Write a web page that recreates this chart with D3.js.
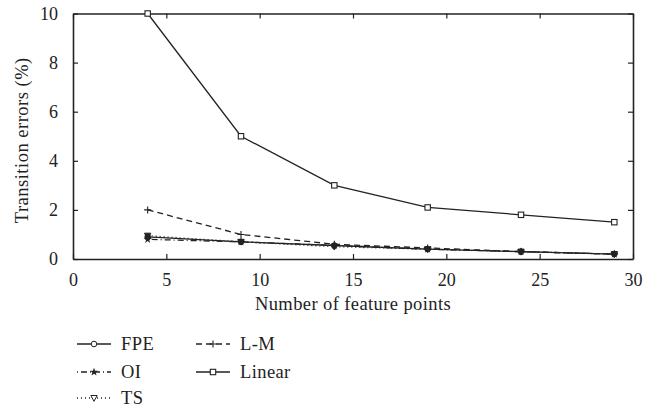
<!DOCTYPE html>
<html>
<head>
<meta charset="utf-8">
<script src="https://cdn.jsdelivr.net/npm/d3@7/dist/d3.min.js"></script>
<style>
  body { margin: 0; background: #fff; }
  .axis path, .axis line { stroke: #222; }
</style>
</head>
<body>
<div id="chart"></div>
<script>
// data
var featurePoints = [4, 9, 14, 19, 24, 29]
var fpe = [0.9, 0.7, 0.55, 0.4, 0.3, 0.2]
var oi = [0.8, 0.7, 0.55, 0.4, 0.3, 0.2]
var ts = [0.95, 0.7, 0.5, 0.4, 0.3, 0.2]
var lm = [2.0, 1.0, 0.6, 0.45, 0.3, 0.2]
var linear = [10, 5, 3, 2.1, 1.8, 1.5]
var xTicks = [0, 5, 10, 15, 20, 25, 30]
var yTicks = [0, 2, 4, 6, 8, 10]

var series = [
  { name: "FPE", values: fpe, dash: null, marker: "circle" },
  { name: "OI", values: oi, dash: "1,3,6,3", marker: "star" },
  { name: "TS", values: ts, dash: "1,3", marker: "triangle" },
  { name: "L-M", values: lm, dash: "6,4", marker: "plus" },
  { name: "Linear", values: linear, dash: null, marker: "square" }
]

var serif = "'Liberation Serif', serif"

var margin = { top: 13.5, right: 21, bottom: 152, left: 73 }
var width = 654 - margin.left - margin.right,
  height = 411 - margin.top - margin.bottom

var svg = d3.select("#chart").append("svg")
  .attr("width", 654)
  .attr("height", 411)

var g = svg.append("g")
  .attr("transform", "translate(" + margin.left + "," + margin.top + ")")

var xPositionScale = d3.scaleLinear().domain([0, 30]).range([0, width])
var yPositionScale = d3.scaleLinear().domain([0, 10]).range([height, 0])

// axes: ticks pointing inward on all four sides
var xAxis = d3.axisBottom(xPositionScale).tickValues(xTicks).tickSizeInner(-5).tickSizeOuter(0).tickPadding(14)
var yAxis = d3.axisLeft(yPositionScale).tickValues(yTicks).tickSizeInner(-5).tickSizeOuter(0).tickPadding(15)

g.append("g").attr("class", "axis x-axis")
  .attr("transform", "translate(0," + height + ")")
  .call(xAxis)
g.append("g").attr("class", "axis y-axis")
  .call(yAxis)
g.append("g").attr("class", "axis")
  .call(d3.axisTop(xPositionScale).tickValues(xTicks).tickSizeInner(-5).tickSizeOuter(0).tickFormat(""))
g.append("g").attr("class", "axis")
  .attr("transform", "translate(" + width + ",0)")
  .call(d3.axisRight(yPositionScale).tickValues(yTicks).tickSizeInner(-5).tickSizeOuter(0).tickFormat(""))

g.selectAll(".axis").attr("font-family", null)
g.selectAll(".axis path").attr("stroke-width", 1.6)
g.selectAll(".axis line").attr("stroke-width", 1.2)
g.selectAll(".axis text").attr("font-size", 18).style("font-family", serif).attr("fill", "#222")
g.selectAll(".x-axis text").attr("dy", "0.71em")

// axis titles
g.append("text")
  .attr("x", width / 2)
  .attr("y", height + 51)
  .attr("text-anchor", "middle")
  .attr("font-size", 18.5)
  .attr("letter-spacing", 0.4)
  .style("font-family", serif)
  .attr("fill", "#222")
  .text("Number of feature points")

g.append("text")
  .attr("transform", "translate(-45," + (height / 2 + 4) + ") rotate(-90)")
  .attr("text-anchor", "middle")
  .attr("font-size", 18.5)
  .attr("letter-spacing", 0.5)
  .style("font-family", serif)
  .attr("fill", "#222")
  .text("Transition errors (%)")

function drawMarker(sel, type, filled) {
  var fill = filled ? "#222" : "#fff"
  if (type === "circle") {
    sel.append("circle").attr("r", 2.8).attr("fill", fill).attr("stroke", "#222").attr("stroke-width", 1)
  } else if (type === "square") {
    sel.append("rect").attr("x", -2.7).attr("y", -2.7).attr("width", 5.4).attr("height", 5.4)
      .attr("fill", "#fff").attr("stroke", "#222").attr("stroke-width", 1.1)
  } else if (type === "triangle") {
    sel.append("path").attr("d", "M-3.2,-2.5L3.2,-2.5L0,3.3Z").attr("fill", fill).attr("stroke", "#222").attr("stroke-width", 1)
  } else if (type === "plus") {
    sel.append("path").attr("d", "M-3.5,0L3.5,0M0,-3.5L0,3.5").attr("stroke", "#222").attr("stroke-width", 1.1)
  } else if (type === "star") {
    sel.append("path").attr("d", d3.symbol().type(d3.symbolStar).size(22)).attr("fill", "#222")
  }
}

var line = d3.line()
  .x(function (d) { return xPositionScale(d.x) })
  .y(function (d) { return yPositionScale(d.y) })

series.slice().reverse().forEach(function (s) {
  var pts = featurePoints.map(function (x, i) { return { x: x, y: s.values[i] } })
  g.append("path")
    .datum(pts)
    .attr("d", line)
    .attr("fill", "none")
    .attr("stroke", "#222")
    .attr("stroke-width", 1.3)
    .attr("stroke-dasharray", s.dash)

  g.selectAll(".m-" + s.marker)
    .data(pts)
    .enter().append("g")
    .attr("class", "m-" + s.marker)
    .attr("transform", function (d) { return "translate(" + xPositionScale(d.x) + "," + yPositionScale(d.y) + ")" })
    .each(function () { drawMarker(d3.select(this), s.marker, s.name !== "Linear") })
})

// legend
var legendPos = [
  { x: 77, y: 344 }, { x: 77, y: 372 }, { x: 77, y: 398 },
  { x: 196, y: 344 }, { x: 196, y: 372 }
]
var legend = svg.selectAll(".legend")
  .data(series)
  .enter().append("g")
  .attr("class", "legend")
  .attr("transform", function (d, i) { return "translate(" + legendPos[i].x + "," + legendPos[i].y + ")" })

legend.append("line")
  .attr("x1", 0).attr("x2", 34)
  .attr("stroke", "#222")
  .attr("stroke-width", 1.3)
  .attr("stroke-dasharray", function (d) { return d.dash })

legend.append("g")
  .attr("transform", "translate(17,0)")
  .each(function (d) { drawMarker(d3.select(this), d.marker, d.marker === "star") })

legend.append("text")
  .attr("x", 44)
  .attr("dy", "0.35em")
  .attr("font-size", 18.5)
  .attr("letter-spacing", 0.4)
  .style("font-family", serif)
  .attr("fill", "#222")
  .text(function (d) { return d.name })
</script>
</body>
</html>
